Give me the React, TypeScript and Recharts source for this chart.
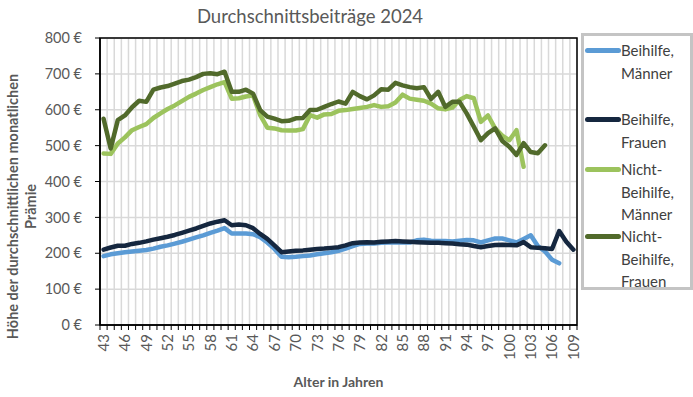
import { LineChart, Line, XAxis, YAxis, CartesianGrid, Legend, ReferenceArea } from "recharts";

const FONT = "Lato, 'Open Sans', sans-serif";

const ages = [
  43, 44, 45, 46, 47, 48, 49, 50, 51, 52, 53, 54, 55, 56, 57, 58, 59, 60, 61, 62, 63, 64, 65,
  66, 67, 68, 69, 70, 71, 72, 73, 74, 75, 76, 77, 78, 79, 80, 81, 82, 83, 84, 85, 86, 87, 88,
  89, 90, 91, 92, 93, 94, 95, 96, 97, 98, 99, 100, 101, 102, 103, 104, 105, 106, 107, 108, 109,
];

// Beihilfe, Männer (43..107)
const beihilfeMaenner = [
  192, 197, 200, 203, 205, 207, 209, 213, 218, 222, 227, 232, 238, 244, 250, 257, 263, 270, 255,
  255, 255, 253, 245, 230, 212, 190, 189, 190, 192, 194, 197, 200, 203, 207, 213, 220, 226, 227,
  227, 229, 230, 231, 230, 230, 236, 238, 235, 234, 234, 233, 235, 237, 236, 230, 236, 241, 241,
  236, 230, 240, 250, 220, 205, 182, 172,
];

// Beihilfe, Frauen (43..109)
const beihilfeFrauen = [
  210, 216, 221, 221, 226, 229, 233, 238, 242, 246, 251, 257, 263, 269, 276, 283, 288, 292, 278,
  280, 278, 270, 254, 240, 222, 203, 205, 207, 208, 210, 212, 213, 215, 217, 222, 228, 230, 231,
  230, 232, 233, 234, 233, 232, 231, 230, 229, 229, 228, 227, 225, 224, 220, 217, 220, 223, 224,
  223, 222, 231, 217, 215, 214, 212, 262, 232, 210,
];

// Nicht-Beihilfe, Männer (43..102)
const nichtBeihilfeMaenner = [
  478, 477, 506, 523, 543, 552, 560, 577, 590, 602, 612, 624, 636, 645, 655, 663, 671, 677, 631,
  632, 637, 640, 585, 550, 548, 543, 542, 542, 546, 585, 578, 587, 588, 597, 599, 602, 605, 608,
  613, 608, 610, 620, 642, 631, 628, 625, 617, 604, 601, 606, 627, 638, 632, 566, 584, 548, 528,
  515, 543, 441,
];

// Nicht-Beihilfe, Frauen (43..105)
const nichtBeihilfeFrauen = [
  575, 492, 571, 584, 607, 625, 622, 656, 662, 666, 673, 680, 684, 691, 700, 702, 699, 706, 650,
  650, 656, 645, 599, 581, 575, 568, 569, 576, 577, 599, 600, 608, 616, 623, 617, 650, 638, 629,
  640, 657, 656, 675, 668, 663, 660, 663, 630, 650, 608, 622, 622, 590, 553, 515, 535, 548, 513,
  497, 474, 507, 482, 479, 501,
];

const yTicks = [0, 100, 200, 300, 400, 500, 600, 700, 800];
const ageTicks = [43, 46, 49, 52, 55, 58, 61, 64, 67, 70, 73, 76, 79, 82, 85, 88, 91, 94, 97, 100, 103, 106, 109];

const series = [
  { key: "bm", name: "Beihilfe, Männer", color: "#5b9bd5", values: beihilfeMaenner },
  { key: "bf", name: "Beihilfe, Frauen", color: "#15273f", values: beihilfeFrauen },
  { key: "nm", name: "Nicht-Beihilfe, Männer", color: "#9cc35d", values: nichtBeihilfeMaenner },
  { key: "nf", name: "Nicht-Beihilfe, Frauen", color: "#516a2b", values: nichtBeihilfeFrauen },
];

const data = ages.map((age, i) => {
  const row: Record<string, number | null> = { age };
  series.forEach((s) => {
    row[s.key] = s.values[i] ?? null;
  });
  return row;
});

// category boundaries for the vertical grid + tick marks (Excel "between tick marks")
const boundaries = [...ages.map((a) => a - 0.5), ages[ages.length - 1] + 0.5];
const ageDomain = [boundaries[0], boundaries[boundaries.length - 1]];

// legend item offsets inside the box
const legendTops = [3, 72, 122, 189];

function EmptyTick() {
  return <g />;
}

function AgeTick({ x, y, payload }: any) {
  return (
    <g transform={`translate(${x},${y + 6})`}>
      <text
        transform="rotate(-90)"
        textAnchor="end"
        dy="0.36em"
        fill="#595959"
        fontSize={15}
        fontFamily={FONT}
      >
        {payload.value}
      </text>
    </g>
  );
}

function YTitle({ viewBox }: any) {
  const cx = viewBox.x + 13;
  const cy = viewBox.y + viewBox.height / 2 + 25;
  return (
    <text
      transform={`translate(${cx},${cy}) rotate(-90)`}
      textAnchor="middle"
      fill="#595959"
      fontSize={14.5}
      fontWeight="bold"
      fontFamily={FONT}
    >
      <tspan x={0} dy="0.35em">Höhe der durchschnittlichen monatlichen</tspan>
      <tspan x={0} dy="1.25em">Prämie</tspan>
    </text>
  );
}

function XTitle({ viewBox }: any) {
  return (
    <text
      x={viewBox.x + viewBox.width / 2}
      y={viewBox.y + 55}
      textAnchor="middle"
      dominantBaseline="central"
      fill="#595959"
      fontSize={14}
      fontWeight="bold"
      fontFamily={FONT}
    >
      Alter in Jahren
    </text>
  );
}

function LegendBox() {
  return (
    <div
      style={{
        position: "relative",
        width: 106,
        height: 251,
        border: "3px solid #c4c4c4",
        background: "#fff",
        fontFamily: FONT,
        fontSize: 15,
        color: "#404040",
      }}
    >
      {series.map((s, i) => (
        <div key={s.key} style={{ position: "absolute", left: 1, top: legendTops[i], display: "flex" }}>
          <div style={{ width: 36, height: 22.5, position: "relative" }}>
            <div
              style={{
                position: "absolute",
                left: 0,
                right: 0,
                top: 9,
                height: 4.5,
                borderRadius: 2.5,
                background: s.color,
              }}
            />
          </div>
          <div style={{ width: 68, lineHeight: "22.5px" }}>{s.name}</div>
        </div>
      ))}
    </div>
  );
}

export default function App() {
  return (
    <div style={{ position: "absolute", left: 0, top: 0, width: 693, height: 397, background: "#fff" }}>
      <div
        style={{
          position: "absolute",
          left: 0,
          width: 620,
          top: 5,
          textAlign: "center",
          fontFamily: FONT,
          fontSize: 18.5,
          color: "#595959",
          zIndex: 2,
        }}
      >
        Durchschnittsbeiträge 2024
      </div>
      <LineChart width={693} height={397} data={data} margin={{ top: 38, right: 116, bottom: 0, left: 0 }}>
        <CartesianGrid xAxisId="a0" stroke="#d9d9d9" strokeWidth={1.5} />
        <XAxis
          xAxisId="a0"
          type="number"
          dataKey="age"
          domain={ageDomain}
          ticks={boundaries}
          interval={0}
          height={1}
          tickSize={5}
          tick={<EmptyTick />}
          tickLine={{ stroke: "#000" }}
          axisLine={{ stroke: "#000", strokeWidth: 1.5 }}
        />
        <XAxis
          xAxisId="age"
          type="number"
          dataKey="age"
          domain={ageDomain}
          ticks={ageTicks}
          interval={0}
          height={71}
          tickSize={0}
          tickLine={false}
          axisLine={false}
          tick={<AgeTick />}
          label={<XTitle />}
        />
        <YAxis
          type="number"
          domain={[0, 800]}
          ticks={yTicks}
          interval={0}
          width={100}
          tickSize={5}
          tickMargin={13}
          tickFormatter={(v) => `${v} €`}
          tick={{ fill: "#595959", fontSize: 14.5, fontFamily: FONT }}
          tickLine={{ stroke: "#000" }}
          axisLine={{ stroke: "#000", strokeWidth: 1.5 }}
          label={<YTitle />}
        />
        <ReferenceArea
          xAxisId="age"
          x1={ageDomain[0]}
          x2={ageDomain[1]}
          y1={0}
          y2={800}
          fill="none"
          fillOpacity={0}
          stroke="#000"
          strokeWidth={1.5}
        />
        {series.map((s) => (
          <Line
            key={s.key}
            xAxisId="age"
            dataKey={s.key}
            name={s.name}
            stroke={s.color}
            strokeWidth={4.5}
            strokeLinejoin="round"
            strokeLinecap="round"
            dot={false}
            activeDot={false}
            isAnimationActive={false}
          />
        ))}
        <Legend
          layout="horizontal"
          align="center"
          verticalAlign="middle"
          content={<LegendBox />}
          wrapperStyle={{ left: 581, top: 33, width: 112, height: 257 }}
        />
      </LineChart>
    </div>
  );
}
